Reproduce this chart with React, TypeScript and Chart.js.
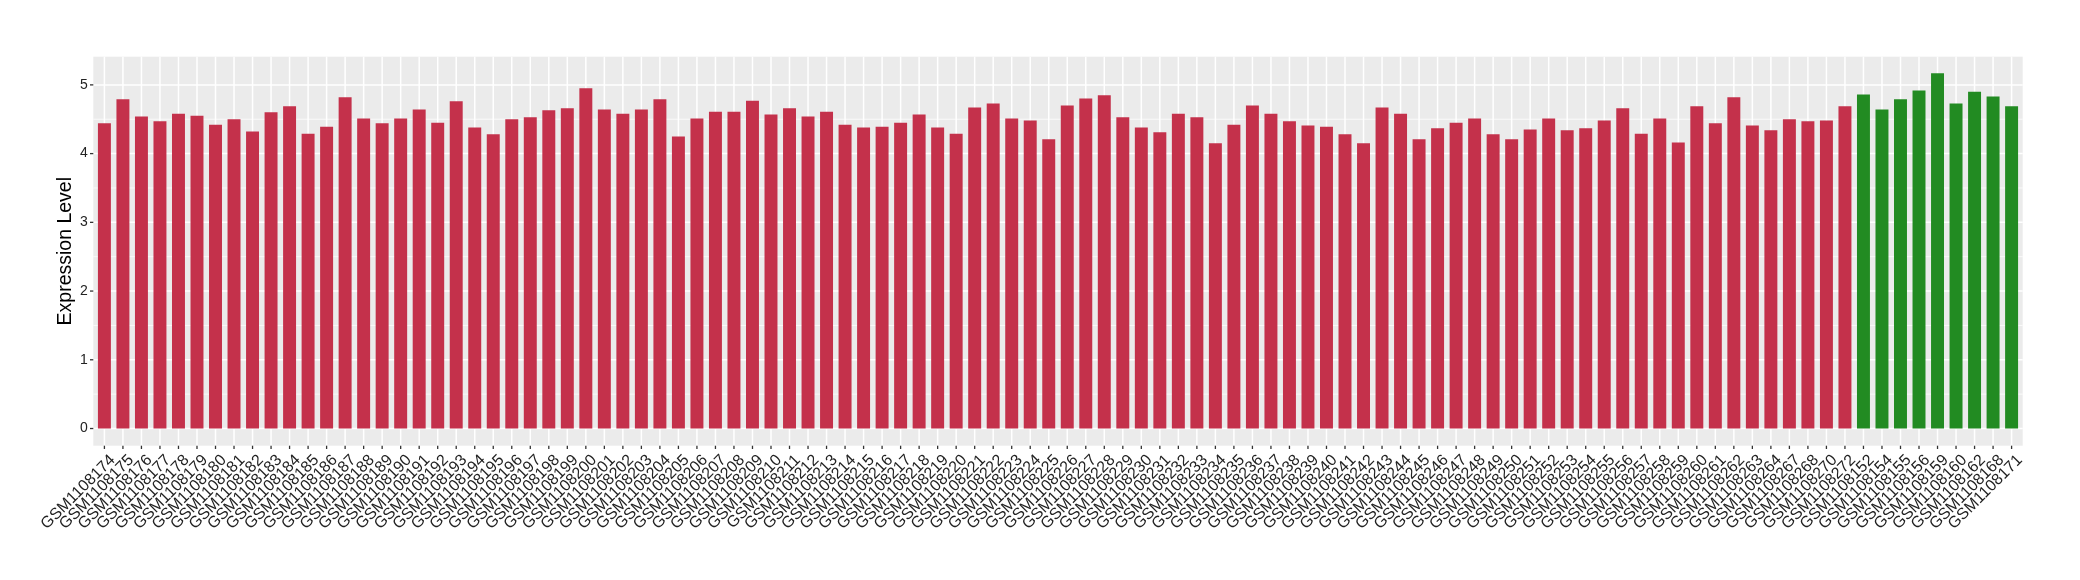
import React, { useEffect, useRef } from "react";
import { Chart, registerables } from "chart.js";

Chart.register(...registerables);

// ---------- data ----------
const redSamples = [
  "GSM1108174", "GSM1108175", "GSM1108176", "GSM1108177", "GSM1108178", "GSM1108179", "GSM1108180",
  "GSM1108181", "GSM1108182", "GSM1108183", "GSM1108184", "GSM1108185", "GSM1108186", "GSM1108187",
  "GSM1108188", "GSM1108189", "GSM1108190", "GSM1108191", "GSM1108192", "GSM1108193", "GSM1108194",
  "GSM1108195", "GSM1108196", "GSM1108197", "GSM1108198", "GSM1108199", "GSM1108200", "GSM1108201",
  "GSM1108202", "GSM1108203", "GSM1108204", "GSM1108205", "GSM1108206", "GSM1108207", "GSM1108208",
  "GSM1108209", "GSM1108210", "GSM1108211", "GSM1108212", "GSM1108213", "GSM1108214", "GSM1108215",
  "GSM1108216", "GSM1108217", "GSM1108218", "GSM1108219", "GSM1108220", "GSM1108221", "GSM1108222",
  "GSM1108223", "GSM1108224", "GSM1108225", "GSM1108226", "GSM1108227", "GSM1108228", "GSM1108229",
  "GSM1108230", "GSM1108231", "GSM1108232", "GSM1108233", "GSM1108234", "GSM1108235", "GSM1108236",
  "GSM1108237", "GSM1108238", "GSM1108239", "GSM1108240", "GSM1108241", "GSM1108242", "GSM1108243",
  "GSM1108244", "GSM1108245", "GSM1108246", "GSM1108247", "GSM1108248", "GSM1108249", "GSM1108250",
  "GSM1108251", "GSM1108252", "GSM1108253", "GSM1108254", "GSM1108255", "GSM1108256", "GSM1108257",
  "GSM1108258", "GSM1108259", "GSM1108260", "GSM1108261", "GSM1108262", "GSM1108263", "GSM1108264",
  "GSM1108267", "GSM1108268", "GSM1108270", "GSM1108272",
];

const redValues = [
  4.44, 4.79, 4.54, 4.47, 4.58, 4.55, 4.42,
  4.50, 4.32, 4.60, 4.69, 4.29, 4.39, 4.82,
  4.51, 4.44, 4.51, 4.64, 4.45, 4.76, 4.38,
  4.28, 4.50, 4.53, 4.63, 4.66, 4.95, 4.64,
  4.58, 4.64, 4.79, 4.25, 4.51, 4.61, 4.61,
  4.77, 4.57, 4.66, 4.54, 4.61, 4.42, 4.38,
  4.39, 4.45, 4.57, 4.38, 4.29, 4.67, 4.73,
  4.51, 4.48, 4.21, 4.70, 4.80, 4.85, 4.53,
  4.38, 4.31, 4.58, 4.53, 4.15, 4.42, 4.70,
  4.58, 4.47, 4.41, 4.39, 4.28, 4.15, 4.67,
  4.58, 4.21, 4.37, 4.45, 4.51, 4.28, 4.21,
  4.35, 4.51, 4.34, 4.37, 4.48, 4.66, 4.29,
  4.51, 4.16, 4.69, 4.44, 4.82, 4.41, 4.34,
  4.50, 4.47, 4.48, 4.69,
];

const greenSamples = [
  "GSM1108152", "GSM1108154", "GSM1108155", "GSM1108156", "GSM1108159",
  "GSM1108160", "GSM1108162", "GSM1108168", "GSM1108171",
];

const greenValues = [4.86, 4.64, 4.79, 4.92, 5.17, 4.73, 4.90, 4.83, 4.69];

const yMajorTicks = [0, 1, 2, 3, 4, 5];
const yMinorTicks = [0.5, 1.5, 2.5, 3.5, 4.5];
const yTitle = "Expression Level";

// ---------- style ----------
const RED = "#C4314B";
const GREEN = "#228B22";
const PANEL_BG = "#EBEBEB";
const TEXT_GREY = "#222222";
const TICK_GREY = "#333333";
const FONT = "'Liberation Sans', Arial, Helvetica, sans-serif";

const W = 2080;
const H = 580;
const PANEL_LEFT = 93.3;
const PANEL_RIGHT = 2022.7;
const PANEL_TOP = 56.7;
const PANEL_BOTTOM = 445.7;

export default function App() {
  const ref = useRef<HTMLCanvasElement | null>(null);

  useEffect(() => {
    if (!ref.current) return;
    const labels = [...redSamples, ...greenSamples];
    const values = [...redValues, ...greenValues];
    const colors = [...redSamples.map(() => RED), ...greenSamples.map(() => GREEN)];
    const n = labels.length;
    const catW = (PANEL_RIGHT - PANEL_LEFT) / (n + 0.2);
    const extra = 0.1 * catW;

    const panelPlugin = {
      id: "ggpanel",
      beforeDraw(chart: any) {
        const { ctx, chartArea, scales } = chart;
        const x = scales.x;
        const y = scales.y;
        const left = chartArea.left - extra;
        const right = chartArea.right + extra;
        const top = chartArea.top;
        const bottom = chartArea.bottom;
        ctx.save();
        ctx.fillStyle = PANEL_BG;
        ctx.fillRect(left, top, right - left, bottom - top);
        ctx.strokeStyle = "#FFFFFF";
        ctx.lineWidth = 0.75;
        for (const v of yMinorTicks) {
          const py = y.getPixelForValue(v);
          ctx.beginPath();
          ctx.moveTo(left, py);
          ctx.lineTo(right, py);
          ctx.stroke();
        }
        ctx.lineWidth = 1.5;
        for (const v of yMajorTicks) {
          const py = y.getPixelForValue(v);
          ctx.beginPath();
          ctx.moveTo(left, py);
          ctx.lineTo(right, py);
          ctx.stroke();
        }
        for (let i = 0; i < n; i++) {
          const px = x.getPixelForValue(i);
          ctx.beginPath();
          ctx.moveTo(px, top);
          ctx.lineTo(px, bottom);
          ctx.stroke();
        }
        ctx.strokeStyle = TICK_GREY;
        ctx.lineWidth = 1.3;
        for (const v of yMajorTicks) {
          const py = y.getPixelForValue(v);
          ctx.beginPath();
          ctx.moveTo(left - 3.3, py);
          ctx.lineTo(left, py);
          ctx.stroke();
        }
        for (let i = 0; i < n; i++) {
          const px = x.getPixelForValue(i);
          ctx.beginPath();
          ctx.moveTo(px, bottom);
          ctx.lineTo(px, bottom + 3.3);
          ctx.stroke();
        }
        ctx.restore();
      },
    };

    const chart = new Chart(ref.current, {
      type: "bar",
      data: {
        labels,
        datasets: [
          {
            data: values,
            backgroundColor: colors,
            borderWidth: 0,
            categoryPercentage: 1,
            barPercentage: 0.7,
          },
        ],
      },
      options: {
        animation: false,
        responsive: false,
        devicePixelRatio: 1,
        layout: {
          padding: { top: PANEL_TOP, left: 0, bottom: 0, right: W - PANEL_RIGHT + extra },
        },
        plugins: {
          legend: { display: false },
          tooltip: { enabled: false },
          title: { display: false },
        },
        scales: {
          x: {
            type: "category",
            offset: true,
            grid: { display: false, drawTicks: false, offset: false },
            border: { display: false },
            ticks: {
              autoSkip: false,
              minRotation: 45,
              maxRotation: 45,
              padding: 5.2,
              labelOffset: 8.3,
              color: TEXT_GREY,
              font: { family: FONT, size: 16 },
            },
            afterFit(scale: any) {
              scale.height = H - PANEL_BOTTOM;
            },
          },
          y: {
            type: "linear",
            min: -0.25,
            max: 5.41,
            grid: { display: false, drawTicks: false },
            border: { display: false },
            ticks: {
              stepSize: 1,
              includeBounds: false,
              autoSkip: false,
              padding: 7.35,
              color: TEXT_GREY,
              font: { family: FONT, size: 14 },
            },
            title: {
              display: true,
              text: yTitle,
              color: "#000000",
              font: { family: FONT, size: 19.5 },
              padding: { top: 53.5, bottom: 0 },
            },
            afterFit(scale: any) {
              scale.width = PANEL_LEFT + extra;
            },
          },
        },
      },
      plugins: [panelPlugin],
    });

    return () => {
      chart.destroy();
    };
  }, []);

  return (
    <div style={{ position: "fixed", left: 0, top: 0, width: W, height: H, background: "#FFFFFF" }}>
      <canvas ref={ref} width={W} height={H} style={{ width: W, height: H, display: "block" }} />
    </div>
  );
}
